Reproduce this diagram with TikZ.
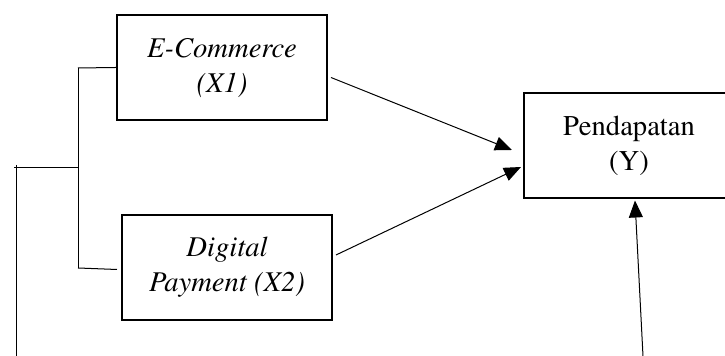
\documentclass[tikz,border=0pt]{standalone}
\usepackage[T1]{fontenc}
\usepackage{times}
\usetikzlibrary{arrows.meta}
\newcommand{\boxfont}{\fontsize{14.3}{17.5}\selectfont}
\begin{document}
\begin{tikzpicture}[x=0.5pt,y=-0.5pt,
    varbox/.style={draw,line width=1pt,minimum width=105pt,minimum height=52.5pt,
        inner sep=0pt,align=center,font=\boxfont},
    link/.style={-{Triangle[length=8.5pt,width=7pt]},line width=0.5pt},
    wire/.style={line width=0.5pt}]
    \useasboundingbox (0,0) rectangle (725,356);
    \clip (0,0) rectangle (725,356);
    %draw variables
    \node[varbox,font=\boxfont\itshape] (x1) at (222,67.5) {E-Commerce\\(X1)};
    \node[varbox,font=\boxfont\itshape] (x2) at (227,267.5) {Digital\\Payment (X2)};
    \node[varbox] (y) at (629,146) {Pendapatan\\(Y)};
    %bracket on the left
    \coordinate (top) at (78,68);
    \coordinate (bot) at (78,268);
    \coordinate (mid) at (78,168);
    \coordinate (src) at (14,168);
    \coordinate (lt) at (16,165);
    \coordinate (lb) at (16,356);
    \coordinate (rb) at (643,356);
    \draw[wire] (top) -- (bot);
    \draw[wire] (top) -- (x1.west);
    \draw[wire] (bot) -- ([shift={(-4,2)}]x2.west);
    \draw[wire] (src) -- (mid);
    \draw[wire] (lt) -- (lb);
    %draw arrows
    \draw[link] ([shift={(3,10)}]x1.east) -- ([shift={(-11,4)}]y.west);
    \draw[link] ([shift={(3,-12.5)}]x2.east) -- ([shift={(-2,21)}]y.west);
    \draw[link] (rb) -- ([shift={(6,1)}]y.south);
\end{tikzpicture}
\end{document}
